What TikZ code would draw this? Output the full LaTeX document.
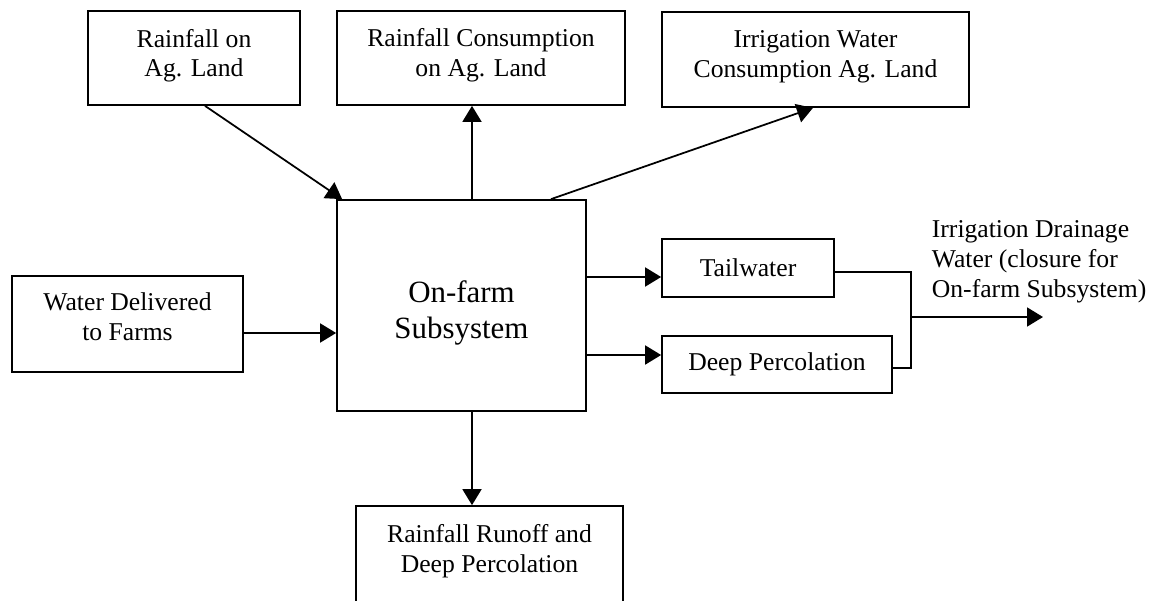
\documentclass[tikz,border=0pt]{standalone}
\usepackage{fontspec}
\setmainfont{Liberation Serif}
\usetikzlibrary{arrows.meta}

\begin{document}
\begin{tikzpicture}[x=0.02cm, y=-0.02cm, line width=1pt,
    >={Triangle[length=0.32cm, width=0.38cm]},
    box/.style={draw, align=center, inner sep=2pt, font=\fontsize{14.6}{17}\selectfont}]
    \useasboundingbox (0,0) rectangle (1156,601);
    \clip (0,0) rectangle (1156,601);

    \node (rainag) [box, minimum width=4.24cm, minimum height=1.88cm, text depth=0.2cm] at (194,58) {Rainfall on\\Ag. Land};
    \node (raincons) [box, minimum width=5.76cm, minimum height=1.88cm, text depth=0.23cm] at (481,58) {Rainfall Consumption\\on Ag. Land};
    \node (irrcons) [box, minimum width=6.14cm, minimum height=1.9cm, text depth=0.23cm] at (815.5,59.5) {Irrigation Water\\Consumption Ag. Land};
    \node (delivered) [box, minimum width=4.62cm, minimum height=1.92cm, text depth=0.28cm] at (127.5,324) {Water Delivered\\to Farms};
    \node (farm) [box, minimum width=4.98cm, minimum height=4.22cm, text height=1.47cm, font=\fontsize{17.6}{21}\selectfont] at (461.5,305.5) {On-farm\\Subsystem};
    \node (tail) [box, minimum width=3.44cm, minimum height=1.16cm] at (748,268) {Tailwater};
    \node (deepperc) [box, minimum width=4.6cm, minimum height=1.14cm] at (777,364.5) {Deep Percolation};
    \node (runoff) [box, minimum width=5.34cm, minimum height=2cm, text depth=0.31cm] at (489.5,556) {Rainfall Runoff and\\Deep Percolation};
    \node (drainlbl) [anchor=west, align=left, inner sep=0pt, font=\fontsize{14.6}{17}\selectfont] at (931,262) {Irrigation Drainage\\Water (closure for\\On-farm Subsystem)};
    \coordinate (merge) at (911,317);
    \coordinate (outend) at (1043,317);

    \draw[->] ([xshift=0.22cm]rainag.south) -- ([xshift=0.12cm]farm.north west);
    \draw[->] ([xshift=0.21cm]farm.north) -- ([xshift=0.21cm]farm.north |- raincons.south);
    \draw[->] ([xshift=1.79cm]farm.north) -- ([xshift=-0.05cm]irrcons.south);
    \draw[->] ([yshift=-0.18cm]delivered.east) -- ([yshift=-0.18cm]delivered.east -| farm.west);
    \draw[->] ([yshift=-0.18cm]tail.west -| farm.east) -- ([yshift=-0.18cm]tail.west);
    \draw[->] ([yshift=0.19cm]deepperc.west -| farm.east) -- ([yshift=0.19cm]deepperc.west);
    \draw ([yshift=-0.08cm]tail.east) -| (merge) |- ([yshift=-0.07cm]deepperc.east);
    \draw[->] (merge) -- (outend);
    \draw[->] ([xshift=0.21cm]farm.south) -- ([xshift=0.21cm]farm.south |- runoff.north);
\end{tikzpicture}
\end{document}
